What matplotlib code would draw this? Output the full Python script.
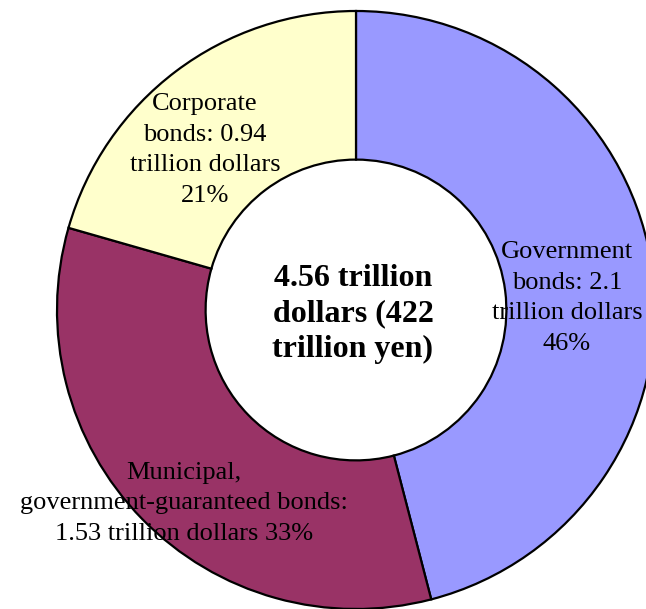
import matplotlib.pyplot as plt

plt.rcParams['font.family'] = ['Liberation Serif', 'DejaVu Serif']

categories = ["Government bonds", "Municipal, government-guaranteed bonds", "Corporate bonds"]
values = [2.1, 1.53, 0.94]
shares = [46, 33, 21]
colors = ["#9999FF", "#993366", "#FFFFCC"]
labels = [
    "Government\nbonds: 2.1\ntrillion dollars\n46%",
    "Municipal,\ngovernment-guaranteed bonds:\n1.53 trillion dollars 33%",
    "Corporate\nbonds: 0.94\ntrillion dollars\n21%",
]
center_label = "4.56 trillion\ndollars (422\ntrillion yen)"

# pixel layout of the doughnut (figure is 646 x 609)
cx, cy = 356, 609 - 310
radius = 299
# label offsets from the centre, in pixels
label_offsets = [(211, -(298 - 310)), (-172, -(503 - 310)), (-151, -(150 - 310))]

fig = plt.figure(figsize=(6.46, 6.09), dpi=100)
ax = fig.add_axes([0, 0, 1, 1])
ax.pie(values, colors=colors, startangle=90, counterclock=False,
       center=(cx, cy), radius=radius,
       wedgeprops=dict(width=radius * 0.497, edgecolor="black", linewidth=1.6))
ax.set_xlim(0, 646)
ax.set_ylim(0, 609)
ax.set_aspect("equal")
ax.axis("off")

for lab, (dx, dy) in zip(labels, label_offsets):
    ax.text(cx + dx, cy + dy, lab, ha="center", va="center", fontsize=19,
            linespacing=1.5, color="black")

ax.text(cx - 3, cy - 4, center_label, ha="center", va="center", fontsize=23,
        fontweight="bold", linespacing=1.3)

fig.savefig("out.png", dpi=100)
